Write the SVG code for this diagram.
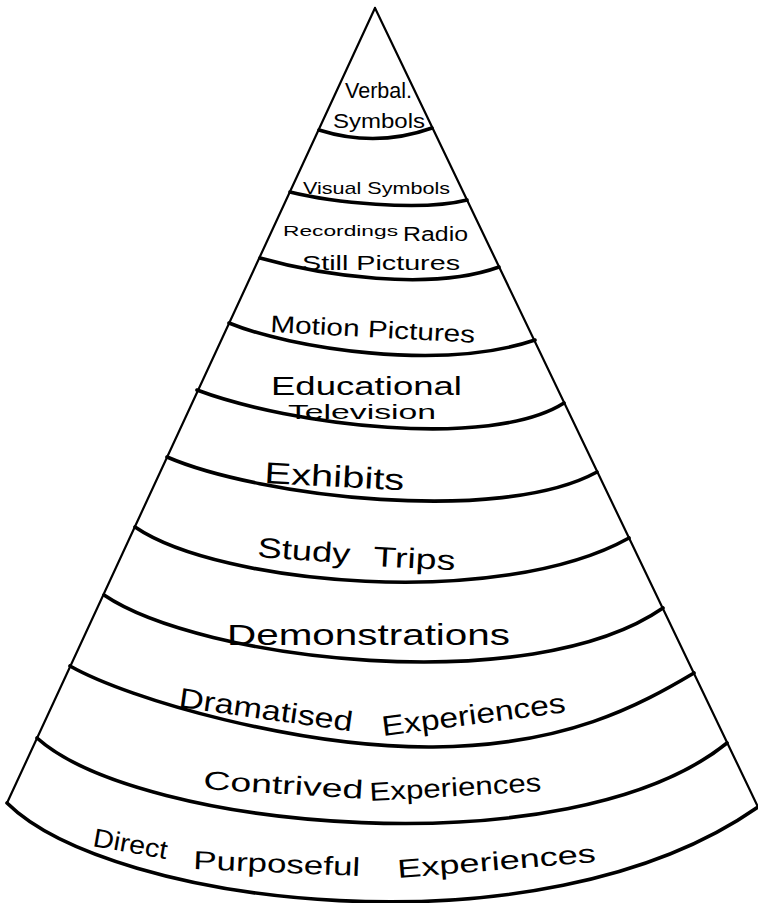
<svg xmlns="http://www.w3.org/2000/svg" width="758" height="903" viewBox="0 0 758 903">
<style>
.edge{fill:none;stroke:#000;stroke-width:2.2;stroke-linecap:round}
.band{fill:none;stroke:#000;stroke-width:3.6;stroke-linecap:round}
.lbl{font-family:"Liberation Sans","DejaVu Sans",sans-serif;fill:#000}
</style>
<rect width="758" height="903" fill="#fff"/>
<g id="connectors">
<path class="edge" d="M375,8 L7,803"/>
<path class="edge" d="M375,8 L758,807"/>
<path class="band" d="M319,130 Q376,148 432,128"/>
<path class="band" d="M290,192 C330,202 420,212 467,200"/>
<path class="band" d="M260,258 C320,275 430,292 499,267"/>
<path class="band" d="M229,323 C290,348 440,372 535,340"/>
<path class="band" d="M197,390 C290,425 490,450 564,403"/>
<path class="band" d="M167,457 C260,497 500,525 597,472"/>
<path class="band" d="M135,527 C220,585 500,610 629,538"/>
<path class="band" d="M104,595 C200,660 530,700 663,608"/>
<path class="band" d="M70,666 C130,700 300,748 433,747 S640,705 694,673"/>
<path class="band" d="M37,738 C140,830 570,870 727,743"/>
<path class="band" d="M7,803 C110,905 540,960 758,807"/>
</g>
<g id="verbal-symbols">
<text class="lbl" x="345" y="98" font-size="22" textLength="67" lengthAdjust="spacingAndGlyphs">Verbal.</text>
<text class="lbl" x="333" y="128" font-size="20" textLength="92" lengthAdjust="spacingAndGlyphs">Symbols</text>
</g>
<g id="visual-symbols">
<text class="lbl" x="303" y="194" font-size="17" textLength="147" lengthAdjust="spacingAndGlyphs">Visual Symbols</text>
</g>
<g id="recordings-radio-still-pictures">
<text class="lbl" x="283" y="236" font-size="15" textLength="115" lengthAdjust="spacingAndGlyphs">Recordings</text>
<text class="lbl" x="403" y="241" font-size="20" textLength="65" lengthAdjust="spacingAndGlyphs">Radio</text>
<text class="lbl" x="302" y="270" font-size="21" textLength="158" lengthAdjust="spacingAndGlyphs">Still Pictures</text>
</g>
<g id="motion-pictures">
<text class="lbl" x="270" y="332" font-size="24" textLength="205" lengthAdjust="spacingAndGlyphs" transform="rotate(3 270 332)">Motion Pictures</text>
</g>
<g id="educational-television">
<text class="lbl" x="271" y="395" font-size="26" textLength="191" lengthAdjust="spacingAndGlyphs">Educational</text>
<text class="lbl" x="288" y="419" font-size="20" textLength="148" lengthAdjust="spacingAndGlyphs">Television</text>
</g>
<g id="exhibits">
<text class="lbl" x="264" y="483" font-size="30" textLength="140" lengthAdjust="spacingAndGlyphs" transform="rotate(3 264 483)">Exhibits</text>
</g>
<g id="study-trips">
<text class="lbl" x="257" y="557" font-size="28" textLength="93" lengthAdjust="spacingAndGlyphs" transform="rotate(4 257 557)">Study</text>
<text class="lbl" x="373" y="566" font-size="28" textLength="82" lengthAdjust="spacingAndGlyphs" transform="rotate(3 373 566)">Trips</text>
</g>
<g id="demonstrations">
<text class="lbl" x="227" y="645" font-size="29" textLength="283" lengthAdjust="spacingAndGlyphs">Demonstrations</text>
</g>
<g id="dramatised-experiences">
<text class="lbl" x="178" y="707" font-size="28" textLength="175" lengthAdjust="spacingAndGlyphs" transform="rotate(8 178 707)">Dramatised</text>
<text class="lbl" x="383" y="736" font-size="28" textLength="185" lengthAdjust="spacingAndGlyphs" transform="rotate(-7.4 383 736)">Experiences</text>
</g>
<g id="contrived-experiences">
<text class="lbl" x="203" y="789" font-size="26" textLength="160" lengthAdjust="spacingAndGlyphs" transform="rotate(3.5 203 789)">Contrived</text>
<text class="lbl" x="370" y="801" font-size="26" textLength="172" lengthAdjust="spacingAndGlyphs" transform="rotate(-3.3 370 801)">Experiences</text>
</g>
<g id="direct-purposeful-experiences">
<text class="lbl" x="92" y="846" font-size="26" textLength="75" lengthAdjust="spacingAndGlyphs" transform="rotate(10 92 846)">Direct</text>
<text class="lbl" x="193" y="869" font-size="26" textLength="167" lengthAdjust="spacingAndGlyphs" transform="rotate(2.4 193 869)">Purposeful</text>
<text class="lbl" x="398" y="878" font-size="26" textLength="199" lengthAdjust="spacingAndGlyphs" transform="rotate(-4.6 398 878)">Experiences</text>
</g>
</svg>
